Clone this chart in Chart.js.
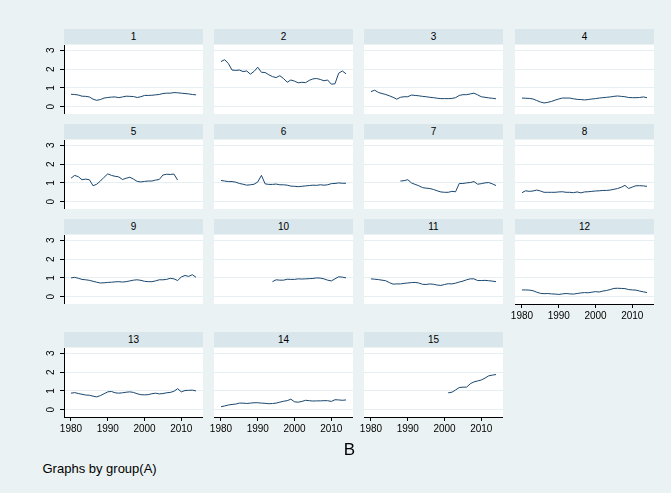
<!DOCTYPE html>
<html><head><meta charset="utf-8">
<script src="https://cdn.jsdelivr.net/npm/chart.js@4.4.0/dist/chart.umd.min.js"></script>
<style>
html,body{margin:0;padding:0;background:#eaf2f3;}
#wrap{position:relative;width:671px;height:493px;background:#eaf2f3;overflow:hidden;font-family:"Liberation Sans",Arial,sans-serif;color:#000;}
.hdr{position:absolute;background:#d9e6eb;font-size:10px;text-align:center;line-height:15px;height:15px;}
.txt{position:absolute;white-space:nowrap;}
canvas{position:absolute;}
</style></head><body><div id="wrap"></div>
<script>
const years = [1980,1981,1982,1983,1984,1985,1986,1987,1988,1989,1990,1991,1992,1993,1994,1995,1996,1997,1998,1999,2000,2001,2002,2003,2004,2005,2006,2007,2008,2009,2010,2011,2012,2013,2014];
const panelNames = ["1","2","3","4","5","6","7","8","9","10","11","12","13","14","15"];
const xTicks = [1980,1990,2000,2010];
const yTicks = [0,1,2,3];
const xTitle = "B";
const note = "Graphs by group(A)";

const g1 = [0.66,0.65,0.62,0.56,0.55,0.52,0.40,0.34,0.38,0.46,0.49,0.51,0.52,0.48,0.52,0.56,0.55,0.54,0.49,0.53,0.60,0.60,0.61,0.63,0.65,0.70,0.72,0.72,0.75,0.74,0.72,0.70,0.68,0.65,0.63];
const g2 = [2.40,2.50,2.30,1.95,1.93,1.95,1.87,1.90,1.73,1.88,2.10,1.83,1.82,1.70,1.60,1.55,1.65,1.50,1.30,1.42,1.36,1.27,1.30,1.28,1.40,1.48,1.50,1.45,1.38,1.42,1.20,1.22,1.78,1.90,1.75];
const g3 = [0.80,0.88,0.76,0.70,0.65,0.58,0.50,0.40,0.50,0.53,0.53,0.62,0.60,0.58,0.55,0.53,0.50,0.48,0.45,0.43,0.43,0.43,0.44,0.48,0.60,0.64,0.64,0.68,0.72,0.63,0.53,0.50,0.47,0.45,0.42];
const g4 = [0.46,0.45,0.44,0.41,0.33,0.25,0.20,0.23,0.28,0.35,0.41,0.46,0.46,0.46,0.42,0.39,0.38,0.36,0.38,0.41,0.43,0.46,0.48,0.50,0.52,0.55,0.57,0.55,0.53,0.49,0.48,0.48,0.49,0.52,0.48];
const g5 = [1.25,1.40,1.33,1.17,1.20,1.17,0.85,0.93,1.10,1.30,1.48,1.40,1.35,1.32,1.18,1.25,1.30,1.20,1.08,1.05,1.08,1.10,1.10,1.15,1.18,1.42,1.46,1.45,1.47,1.15,null,null,null,null,null];
const g6 = [1.13,1.10,1.07,1.07,1.04,0.97,0.93,0.88,0.90,0.93,1.05,1.40,0.95,0.92,0.92,0.94,0.90,0.90,0.88,0.83,0.82,0.80,0.82,0.84,0.86,0.88,0.87,0.90,0.88,0.90,0.96,0.97,1.00,0.98,0.98];
const g7 = [null,null,null,null,null,null,null,null,1.10,1.12,1.17,1.00,0.92,0.85,0.75,0.72,0.70,0.65,0.58,0.52,0.50,0.50,0.55,0.53,0.97,0.97,1.00,1.02,1.07,0.93,0.96,1.00,1.02,0.95,0.86];
const g8 = [0.48,0.58,0.55,0.57,0.62,0.57,0.50,0.50,0.50,0.50,0.52,0.53,0.50,0.50,0.48,0.52,0.47,0.52,0.53,0.55,0.57,0.58,0.60,0.60,0.62,0.66,0.70,0.77,0.87,0.70,0.78,0.85,0.85,0.84,0.82];
const g9 = [1.00,1.03,0.98,0.92,0.90,0.87,0.82,0.77,0.73,0.74,0.76,0.77,0.79,0.80,0.78,0.80,0.84,0.88,0.90,0.87,0.82,0.80,0.80,0.84,0.90,0.90,0.92,0.98,0.95,0.86,1.05,1.13,1.08,1.17,1.03];
const g10 = [null,null,null,null,null,null,null,null,null,null,null,null,null,null,0.80,0.90,0.88,0.88,0.93,0.92,0.92,0.95,0.94,0.95,0.96,0.97,1.00,0.99,0.95,0.88,0.84,0.95,1.06,1.04,1.00];
const g11 = [0.95,0.93,0.91,0.88,0.85,0.75,0.67,0.68,0.68,0.71,0.73,0.75,0.76,0.73,0.66,0.65,0.68,0.66,0.62,0.60,0.65,0.69,0.68,0.72,0.78,0.83,0.90,0.95,0.95,0.86,0.86,0.87,0.85,0.83,0.80];
const g12 = [0.36,0.36,0.35,0.32,0.24,0.18,0.16,0.17,0.15,0.14,0.12,0.15,0.17,0.15,0.14,0.17,0.20,0.22,0.21,0.24,0.27,0.25,0.30,0.33,0.38,0.44,0.45,0.44,0.43,0.38,0.36,0.35,0.30,0.26,0.22];
const g13 = [0.88,0.91,0.86,0.82,0.78,0.77,0.72,0.68,0.75,0.85,0.95,0.97,0.90,0.88,0.90,0.93,0.95,0.92,0.85,0.80,0.79,0.80,0.85,0.88,0.84,0.86,0.90,0.92,0.98,1.12,0.95,1.02,1.03,1.04,1.00];
const g14 = [0.16,0.20,0.25,0.28,0.30,0.35,0.35,0.33,0.35,0.37,0.37,0.35,0.34,0.32,0.33,0.35,0.40,0.45,0.48,0.56,0.42,0.40,0.44,0.50,0.48,0.46,0.47,0.47,0.48,0.48,0.44,0.53,0.52,0.50,0.52];
const g15 = [null,null,null,null,null,null,null,null,null,null,null,null,null,null,null,null,null,null,null,null,null,0.90,0.93,1.05,1.18,1.20,1.20,1.38,1.48,1.53,1.58,1.68,1.80,1.84,1.87];

const series = [g1,g2,g3,g4,g5,g6,g7,g8,g9,g10,g11,g12,g13,g14,g15];
const bottomPanels = ["12","13","14","15"];

// layout (pixels)
const colLeft = [64,214,364,515];
const rowTop = [45,140,235,348];
const W = 139, H = 69;
const FONT = '"Liberation Sans", Arial, sans-serif';
const LINE = '#1a476f';

const wrap = document.getElementById('wrap');
const plotBg = {
  id: 'plotBg',
  beforeDraw(c) {
    const a = c.chartArea, ctx = c.ctx;
    ctx.save(); ctx.fillStyle = '#ffffff';
    ctx.fillRect(a.left, a.top, a.right - a.left, a.bottom - a.top);
    ctx.restore();
  }
};

panelNames.forEach((name, i) => {
  const row = Math.floor(i / 4), col = i % 4;
  const hasX = bottomPanels.includes(name);
  const L = col === 0 ? 34 : (hasX ? 14 : 0);
  const B = hasX ? 22 : 0;

  const hdr = document.createElement('div');
  hdr.className = 'hdr';
  hdr.style.left = colLeft[col] + 'px';
  hdr.style.top = (rowTop[row] - 16) + 'px';
  hdr.style.width = W + 'px';
  hdr.textContent = name;
  wrap.appendChild(hdr);

  const cv = document.createElement('canvas');
  cv.width = W + L; cv.height = H + B;
  cv.style.width = (W + L) + 'px'; cv.style.height = (H + B) + 'px';
  cv.style.left = (colLeft[col] - L) + 'px';
  cv.style.top = rowTop[row] + 'px';
  wrap.appendChild(cv);

  const vals = series[i];
  new Chart(cv, {
    type: 'line',
    data: { datasets: [{
      data: years.map((yr, k) => ({ x: yr, y: vals[k] })),
      borderColor: LINE, borderWidth: 1, pointRadius: 0, fill: false, tension: 0, spanGaps: false
    }]},
    options: {
      responsive: false, animation: false, devicePixelRatio: 1, events: [],
      layout: { padding: 0 },
      plugins: { legend: { display: false }, tooltip: { enabled: false } },
      scales: {
        x: {
          type: 'linear', min: 1978.1, max: 2015.9, display: hasX,
          afterBuildTicks: s => { s.ticks = xTicks.map(v => ({ value: v })); },
          afterFit: s => { s.height = B; s.paddingLeft = 0; s.paddingRight = 0; },
          grid: { drawOnChartArea: false, drawTicks: true, tickLength: 4, tickColor: '#000', lineWidth: 1 },
          border: { display: true, color: '#000', width: 1 },
          ticks: { autoSkip: false, maxRotation: 0, minRotation: 0, padding: 2, color: '#000',
                   font: { family: FONT, size: 10 }, callback: v => String(v) }
        },
        y: {
          type: 'linear', position: 'left', min: -0.388, max: 3.282,
          afterBuildTicks: s => { s.ticks = yTicks.map(v => ({ value: v })); },
          afterFit: s => { s.width = L; s.paddingTop = 0; s.paddingBottom = 0; },
          grid: { color: '#e6eff1', lineWidth: 1, drawTicks: col === 0, tickLength: 4, tickColor: '#000' },
          border: { display: col === 0, color: '#000', width: 1 },
          ticks: { display: col === 0, minRotation: 90, maxRotation: 90, crossAlign: 'center', padding: 5.5,
                   color: '#000', font: { family: FONT, size: 10 }, callback: v => String(v) }
        }
      }
    },
    plugins: [plotBg]
  });
});

const bt = document.createElement('div');
bt.className = 'txt';
bt.style.cssText = 'left:300px;width:99px;text-align:center;top:440.5px;font-size:17px;line-height:17px;';
bt.textContent = xTitle;
wrap.appendChild(bt);

const nt = document.createElement('div');
nt.className = 'txt';
nt.style.cssText = 'left:42.5px;top:461.5px;font-size:13px;line-height:13px;';
nt.textContent = note;
wrap.appendChild(nt);
</script>
</body></html>
